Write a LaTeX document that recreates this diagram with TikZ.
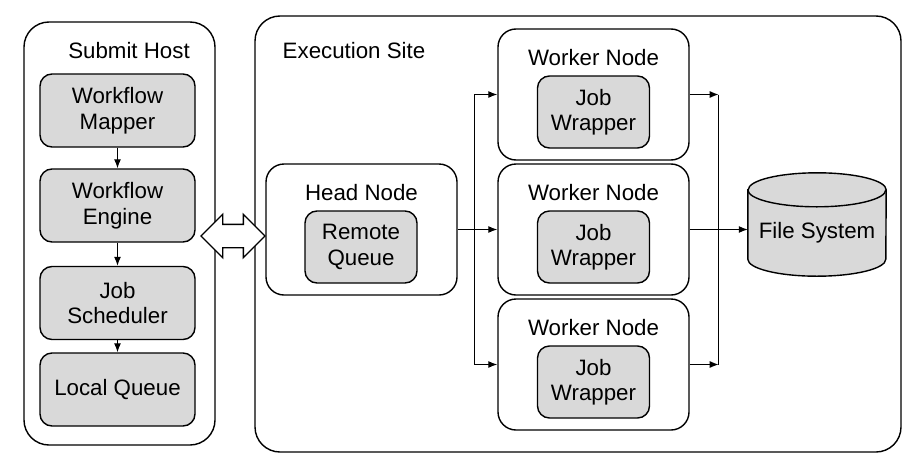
\documentclass[tikz,border=0pt]{standalone}
\usepackage{fontspec}
\setmainfont{Liberation Sans}
\usetikzlibrary{shapes.geometric, shapes.arrows, arrows.meta, calc}

\begin{document}
\begin{tikzpicture}[x=1pt, y=-1pt, font=\fontsize{22.3}{25.5}\selectfont]
  \tikzstyle{host} = [rectangle, rounded corners=25pt, draw=black, line width=1.4pt]
  \tikzstyle{machine} = [rectangle, rounded corners=18pt, minimum width=191pt, minimum height=131pt, draw=black, line width=1.4pt]
  \tikzstyle{process} = [rectangle, rounded corners=12pt, minimum width=155pt, minimum height=73pt, text centered, align=center, draw=black, line width=1.4pt, fill=black!15]
  \tikzstyle{sprocess} = [process, minimum width=112pt, minimum height=72pt]
  \tikzstyle{storage} = [draw=black, line width=1.4pt, fill=black!15]
  \tikzstyle{link} = [double arrow, double arrow head extend=10pt, minimum width=42pt, minimum height=64pt, inner sep=11pt, draw=black, line width=1.4pt, fill=white]
  \tikzstyle{arrow} = [draw, line width=1.2pt, -{Latex[length=9pt, width=7pt]}]

  \useasboundingbox (0,0) rectangle (909,463);

  \node (submit) [host, minimum width=191pt, minimum height=423pt] at (119.5,233.5) {};
  \node (site) [host, minimum width=646pt, minimum height=436pt] at (578,234) {};
  \node (submitlabel) at (129,51) {Submit Host};
  \node (sitelabel) at (354,51) {Execution Site};

  % submit host
  \node (mapper) [process] at (117.5,110.5) {Workflow\\Mapper};
  \node (engine) [process] at (117.5,205.5) {Workflow\\Engine};
  \node (scheduler) [process] at (117.5,303) {Job\\Scheduler};
  \node (local) [process] at (117.5,389.5) {Local Queue};

  \draw [arrow] (mapper) -- (engine);
  \draw [arrow] (engine) -- (scheduler);
  \draw [arrow] (scheduler) -- (local);

  % execution site
  \node (head) [machine] at (361.5,229.5) {};
  \node (headlabel) at ([yshift=-29pt]head.north) {Head Node};
  \node (remote) [sprocess] at (361,247) {Remote\\Queue};

  \node (worker1) [machine] at (593.5,94.5) {};
  \node (worker2) [machine, below of=worker1, node distance=135pt] {};
  \node (worker3) [machine, below of=worker2, node distance=135pt] {};
  \foreach \w in {1,2,3} {
    \node (workerlabel\w) at ([yshift=-29pt]worker\w.north) {Worker Node};
    \node (wrapper\w) [sprocess] at ([yshift=-17.5pt]worker\w.center) {Job\\Wrapper};
  }

  % file system drum
  \node (fs) [minimum width=138pt, minimum height=103pt] at (817,224.5) {};
  \path [storage] ($(fs.north west)+(0,17)$) -- ($(fs.south west)+(0,-17)$)
    arc (180:360:69pt and 17pt) -- ($(fs.north east)+(0,17)$)
    arc (0:180:69pt and 17pt) -- cycle;
  \draw [line width=1.4pt] ($(fs.north west)+(0,17)$) arc (180:360:69pt and 17pt);
  \node (fslabel) at (817,233) {File System};

  \node (hostlink) [link] at (233,236) {};

  \coordinate (split) at ($(head.east)+(17,0)$);
  \coordinate (merge) at ($(worker2.east)+(29,0)$);

  \draw [arrow] (head.east) -- (worker2.west);
  \draw [arrow] (split) |- (worker1.west);
  \draw [arrow] (split) |- (worker3.west);
  \draw [arrow] (worker1.east) -- (merge |- worker1.east);
  \draw [arrow] (worker3.east) -- (merge |- worker3.east);
  \draw [line width=1.2pt] (merge |- worker1.east) -- (merge |- worker3.east);
  \draw [arrow] (worker2.east) -- (fs.west |- worker2.east);

\end{tikzpicture}
\end{document}
